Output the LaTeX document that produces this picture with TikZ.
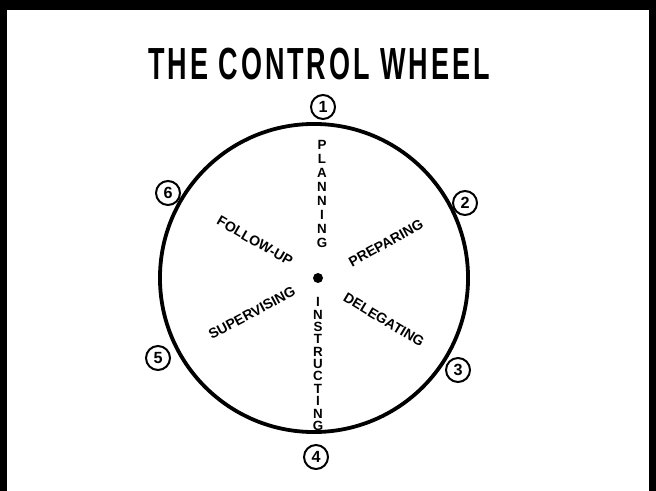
\documentclass[tikz,border=0pt]{standalone}
\usepackage{fontspec}
\setmainfont{Liberation Sans}
\usetikzlibrary{positioning}
\tikzset{
  numcirc/.style={draw, circle, line width=1.4pt, inner sep=0pt, minimum size=0.6cm,
    font=\bfseries\fontsize{11.5}{11.5}\selectfont},
  spoke/.style={inner sep=0pt, font=\bfseries\fontsize{10}{10}\selectfont},
  stack/.style={inner sep=0pt, align=center, font=\bfseries\fontsize{9.5}{#1}\selectfont},
}
\begin{document}
\begin{tikzpicture}[x=0.025cm,y=-0.025cm]
\useasboundingbox (0,0) rectangle (656,491);
% frame
\fill[black] (0,0) rectangle (656,491);
\fill[white] (7,10) rectangle (649,491);
\node (title) at (319,64) {\scalebox{0.6}[1]{\bfseries\fontsize{32}{32}\selectfont
  \addfontfeature{LetterSpace=11}THE\ CONTROL\ WHEEL}};
% wheel
\coordinate (rim) at (314,278);
\draw[line width=2.7pt] (rim) circle [radius=3.85cm];
\node[circle, fill, inner sep=0pt, minimum size=0.25cm] (hub) at (318,278) {};
% numbers round the rim
\node[numcirc] (s1) at (323,107) {1};
\node[numcirc] (s2) at (465,203) {2};
\node[numcirc] (s3) at (458,370) {3};
\node[numcirc] (s4) at (316,457) {4};
\node[numcirc] (s5) at (158,358) {5};
\node[numcirc] (s6) at (168,193) {6};
% spokes
\node[stack=9.9pt] (plan) at (322,194) {P\\L\\A\\N\\N\\I\\N\\G};
\node[stack=8.8pt] (instr) at (318,364) {I\\N\\S\\T\\R\\U\\C\\T\\I\\N\\G};
\node[spoke, rotate=29] (prep) at (386,243) {PREPARING};
\node[spoke, rotate=-31] (deleg) at (384,320) {DELEGATING};
\node[spoke, rotate=28] (superv) at (252,313) {SUPERVISING};
\node[spoke, rotate=-30] (follow) at (255,241) {FOLLOW-UP};
\end{tikzpicture}
\end{document}
